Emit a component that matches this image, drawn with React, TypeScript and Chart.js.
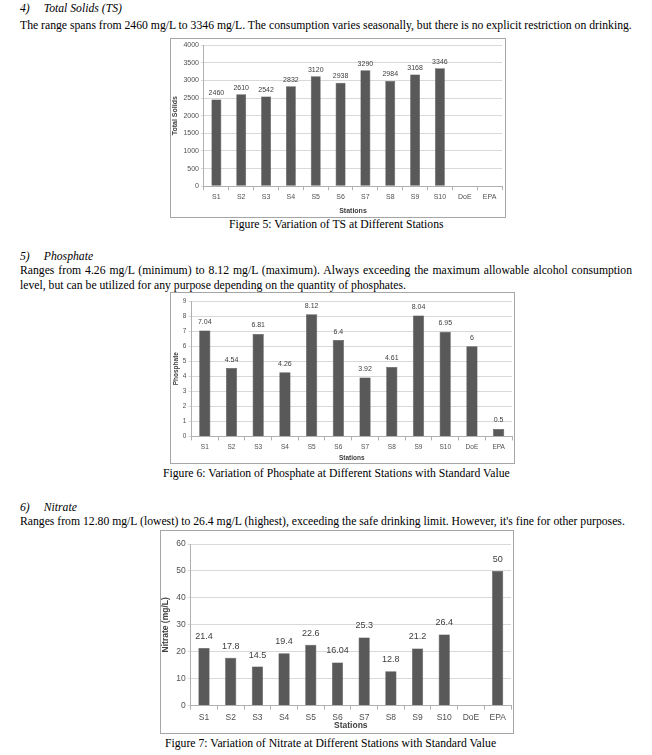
import React, { useEffect, useRef } from "react";
import { Chart, registerables } from "chart.js";

Chart.register(...registerables);

const stations = ["S1", "S2", "S3", "S4", "S5", "S6", "S7", "S8", "S9", "S10", "DoE", "EPA"];
const tsValues: (number | null)[] = [2460, 2610, 2542, 2832, 3120, 2938, 3290, 2984, 3168, 3346, null, null];
const phosphateValues: (number | null)[] = [7.04, 4.54, 6.81, 4.26, 8.12, 6.4, 3.92, 4.61, 8.04, 6.95, 6, 0.5];
const nitrateValues: (number | null)[] = [21.4, 17.8, 14.5, 19.4, 22.6, 16.04, 25.3, 12.8, 21.2, 26.4, null, 50];
const tsAxis = [0, 4000, 500];
const phosphateAxis = [0, 9, 1];
const nitrateAxis = [0, 60, 10];

const valueLabels = {
  id: "valueLabels",
  afterDatasetsDraw(chart: any) {
    const ctx = chart.ctx;
    const ds = chart.data.datasets[0];
    const meta = chart.getDatasetMeta(0);
    const fs = chart.options.plugins.valueLabels?.size ?? 7;
    const off = chart.options.plugins.valueLabels?.offset ?? 4;
    ctx.save();
    ctx.font = `${fs}px "Liberation Sans", sans-serif`;
    ctx.fillStyle = "#404040";
    ctx.textAlign = "center";
    ctx.textBaseline = "bottom";
    meta.data.forEach((bar: any, i: number) => {
      const v = ds.data[i];
      if (v == null) return;
      ctx.fillText(String(v), bar.x, bar.y - off);
    });
    ctx.restore();
  },
};

type BarProps = {
  labels: string[];
  values: (number | null)[];
  axis: number[];
  yTitle: string;
  tickSize: number;
  titleSize: number;
  labelSize: number;
  labelOffset: number;
  yTickPad: number;
  yTitlePad: number;
  xTitlePad: number;
  padding: { left: number; right: number; top: number; bottom: number };
  box: { left: number; top: number; width: number; height: number };
  barPct: number;
};

function BarChart(p: BarProps) {
  const ref = useRef<HTMLCanvasElement | null>(null);
  useEffect(() => {
    if (!ref.current) return;
    const font = { family: '"Liberation Sans", sans-serif', size: p.tickSize };
    const chart = new Chart(ref.current, {
      type: "bar",
      data: {
        labels: p.labels,
        datasets: [
          {
            data: p.values as any,
            backgroundColor: "#595959",
            borderColor: "#3f3f3f",
            borderWidth: 0.5,
            barPercentage: p.barPct,
            categoryPercentage: 1,
          },
        ],
      },
      options: {
        animation: false,
        responsive: false,
        maintainAspectRatio: false,
        layout: { padding: p.padding },
        plugins: {
          legend: { display: false },
          tooltip: { enabled: false },
          valueLabels: { size: p.labelSize, offset: p.labelOffset },
        } as any,
        scales: {
          x: {
            grid: { display: true, drawOnChartArea: false, drawTicks: true, tickLength: 4, color: "#b0b0b0", offset: true },
            border: { display: true, color: "#b0b0b0" },
            ticks: { font, color: "#505050", padding: 3, maxRotation: 0, autoSkip: false },
            title: { display: true, text: "Stations", font: { ...font, weight: "bold" as any, size: p.titleSize }, color: "#404040", padding: { top: p.xTitlePad, bottom: 0 } },
          },
          y: {
            min: p.axis[0],
            max: p.axis[1],
            grid: { color: "#d9d9d9", drawTicks: true, tickLength: 3 },
            border: { display: true, color: "#b0b0b0" },
            ticks: { stepSize: p.axis[2], font, color: "#505050", padding: p.yTickPad, callback: (v: any) => String(v) },
            title: { display: true, text: p.yTitle, font: { ...font, weight: "bold" as any, size: p.titleSize }, color: "#404040", padding: { top: 0, bottom: p.yTitlePad } },
          },
        },
      },
      plugins: [valueLabels],
    });
    return () => chart.destroy();
  }, []);
  return (
    <div
      style={{
        position: "absolute",
        left: p.box.left,
        top: p.box.top,
        width: p.box.width,
        height: p.box.height,
        border: "1px solid #a6a6a6",
        background: "#fff",
        boxSizing: "border-box",
      }}
    >
      <canvas ref={ref} width={p.box.width - 2} height={p.box.height - 2} style={{ display: "block" }} />
    </div>
  );
}

const serif = '"Liberation Serif", "Times New Roman", serif';

function Text(props: { left: number; top: number; width?: number; italic?: boolean; justify?: boolean; children: React.ReactNode }) {
  return (
    <div
      style={{
        position: "absolute",
        left: props.left,
        top: props.top,
        width: props.width,
        fontFamily: serif,
        fontSize: 11.7,
        lineHeight: "15px",
        fontStyle: props.italic ? "italic" : "normal",
        textAlign: props.justify ? "justify" : "left",
        whiteSpace: props.width ? "normal" : "nowrap",
        color: "#000",
      }}
    >
      {props.children}
    </div>
  );
}

export default function App() {
  return (
    <div style={{ position: "absolute", left: 0, top: 0, width: 652, height: 755, background: "#fff", overflow: "hidden" }}>
      <Text left={20} top={1} italic>
        4)<span style={{ display: "inline-block", width: 14 }} />Total Solids (TS)
      </Text>
      <Text left={20} top={18}>
        The range spans from 2460 mg/L to 3346 mg/L. The consumption varies seasonally, but there is no explicit restriction on drinking.
      </Text>
      <BarChart
        labels={stations}
        values={tsValues}
        axis={tsAxis}
        yTitle="Total Solids"
        tickSize={7}
        titleSize={7}
        labelSize={7}
        labelOffset={3}
        yTickPad={2}
        yTitlePad={2}
        xTitlePad={2}
        padding={{ left: 0, right: 3, top: 6, bottom: 2 }}
        box={{ left: 170, top: 38, width: 336, height: 180 }}
        barPct={0.4}
      />
      <Text left={229} top={217}>Figure 5: Variation of TS at Different Stations</Text>

      <Text left={20} top={249} italic>
        5)<span style={{ display: "inline-block", width: 14 }} />Phosphate
      </Text>
      <BarChart
        labels={stations}
        values={phosphateValues}
        axis={phosphateAxis}
        yTitle="Phosphate"
        tickSize={6.5}
        titleSize={6.5}
        labelSize={7}
        labelOffset={5}
        yTickPad={2}
        yTitlePad={1}
        xTitlePad={0}
        padding={{ left: 1, right: 2, top: 8, bottom: 1 }}
        box={{ left: 170, top: 292, width: 345, height: 172 }}
        barPct={0.42}
      />
      <Text left={20} top={263} width={612} justify>
        Ranges from 4.26 mg/L (minimum) to 8.12 mg/L (maximum). Always exceeding the maximum allowable alcohol consumption level, but can be utilized for any purpose depending on the quantity of phosphates.
      </Text>
      <Text left={163} top={466}>Figure 6: Variation of Phosphate at Different Stations with Standard Value</Text>

      <Text left={20} top={500} italic>
        6)<span style={{ display: "inline-block", width: 14 }} />Nitrate
      </Text>
      <Text left={20} top={514}>
        Ranges from 12.80 mg/L (lowest) to 26.4 mg/L (highest), exceeding the safe drinking limit. However, it's fine for other purposes.
      </Text>
      <BarChart
        labels={stations}
        values={nitrateValues}
        axis={nitrateAxis}
        yTitle="Nitrate (mg/L)"
        tickSize={8.5}
        titleSize={8.5}
        labelSize={9}
        labelOffset={7}
        yTickPad={2}
        yTitlePad={3}
        xTitlePad={-5}
        padding={{ left: 0, right: 2, top: 13, bottom: 2 }}
        box={{ left: 160, top: 530, width: 354, height: 204 }}
        barPct={0.42}
      />
      <Text left={165} top={736}>Figure 7: Variation of Nitrate at Different Stations with Standard Value</Text>
    </div>
  );
}
